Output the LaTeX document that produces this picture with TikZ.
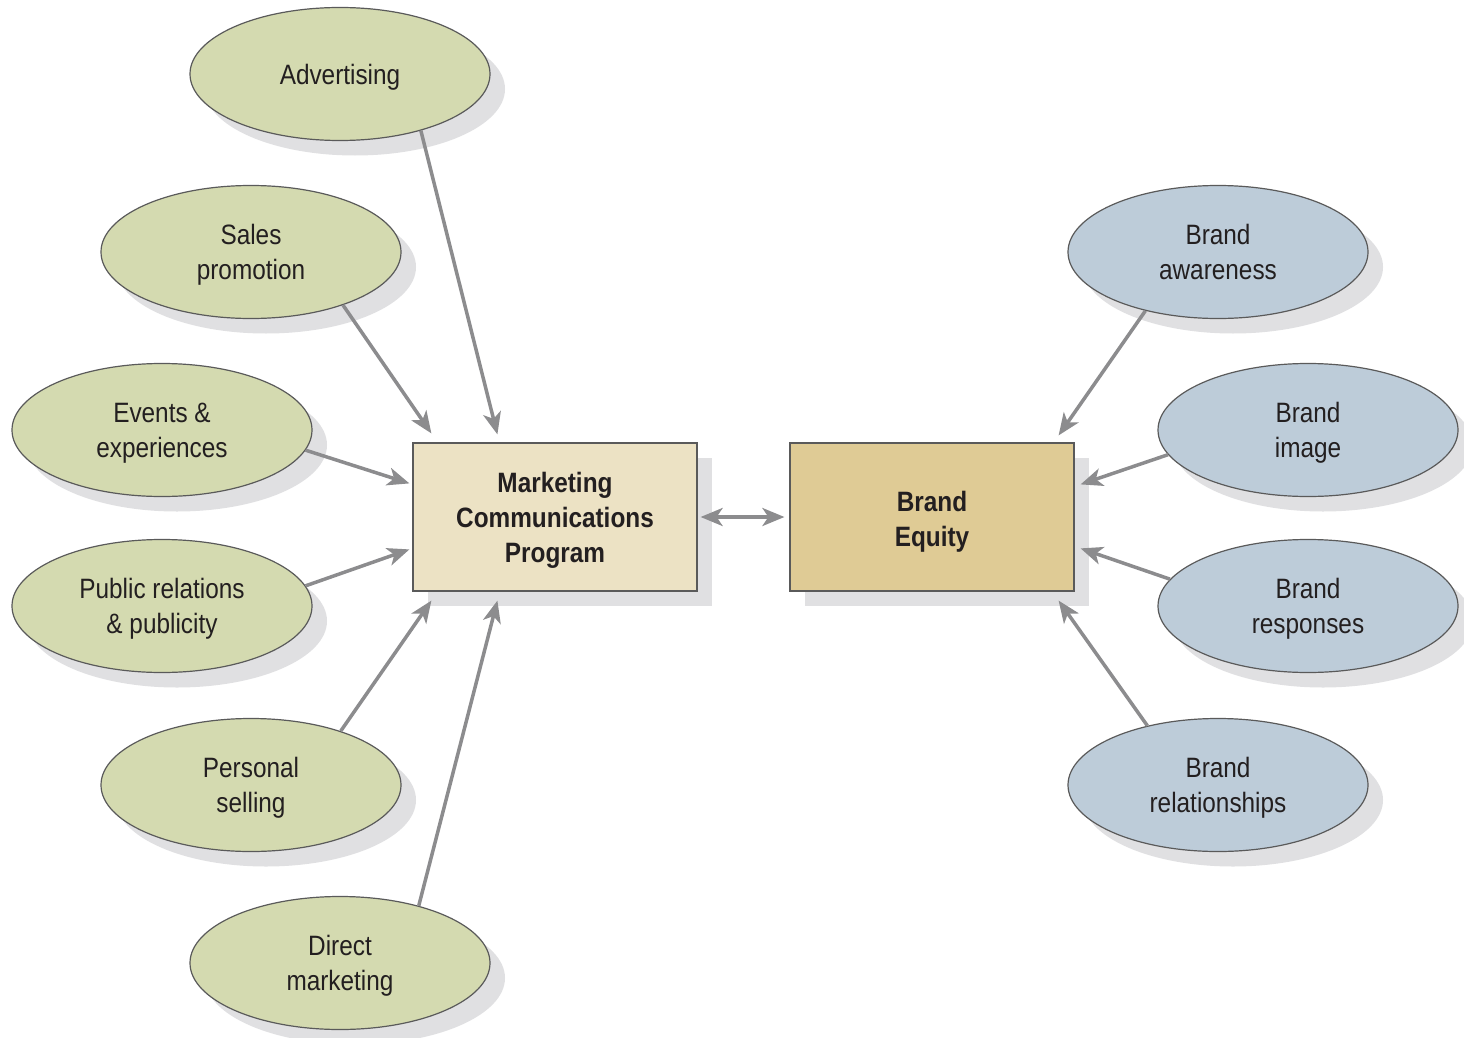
\documentclass[tikz,border=0pt]{standalone}
\usepackage{fontspec}
\setmainfont[FakeStretch=0.87]{Liberation Sans}
\usetikzlibrary{arrows.meta,shapes.geometric,shadows,calc}
\definecolor{leaf}{HTML}{D4DAB0}
\definecolor{sky}{HTML}{BDCCD9}
\definecolor{sand}{HTML}{ECE2C4}
\definecolor{gold}{HTML}{DFCB95}
\definecolor{shade}{HTML}{E0E0E2}
\definecolor{rim}{HTML}{5A5A5A}
\definecolor{wire}{HTML}{8C8C8E}
\definecolor{ink}{HTML}{231F20}
% struts that keep every label at the same height, whatever its letters
\newcommand\firstline[1][26pt]{\rule{0pt}{#1}}
\newcommand\lastline{\rule[-6pt]{0pt}{6pt}}
\begin{document}
\begin{tikzpicture}[x=1pt,y=-1pt,
  >={Stealth[length=22pt,width=18pt,inset=6pt]},
  every node/.style={font=\fontsize{28}{35}\selectfont, text=ink, align=center},
  flat shadow/.style={drop shadow={shadow xshift=15pt, shadow yshift=-15pt, opacity=1, fill=shade}},
  bubble/.style={ellipse, draw=rim, line width=1.2pt, minimum width=300pt,
    minimum height=133pt, inner sep=0pt, flat shadow},
  tool/.style={bubble, fill=leaf},
  facet/.style={bubble, fill=sky},
  panel/.style={rectangle, draw=rim, line width=1.2pt, minimum width=284pt,
    minimum height=148pt, inner sep=0pt, font=\fontsize{28}{35}\selectfont\bfseries, flat shadow},
  wirearrow/.style={draw=wire, line width=3.5pt, ->}
]
\useasboundingbox[fill=white] (0,0) rectangle (1464,1038);

% communication tools
\node[tool] (adv) at (340,74)  {\firstline Advertising};
\node[tool] (sal) at (251,252) {\firstline Sales\\promotion};
\node[tool] (evt) at (162,430) {\firstline Events \&\\experiences};
\node[tool] (pub) at (162,606) {\firstline Public relations\\\& publicity};
\node[tool] (per) at (251,785) {\firstline Personal\\selling};
\node[tool] (dir) at (340,963) {\firstline Direct\\marketing};

% brand equity facets
\node[facet] (awa) at (1218,252) {\firstline Brand\\awareness\lastline};
\node[facet] (img) at (1308,430) {\firstline Brand\\image};
\node[facet] (rsp) at (1308,606) {\firstline Brand\\responses};
\node[facet] (rel) at (1218,785) {\firstline Brand\\relationships};

% central boxes
\node[panel, fill=sand] (mcp) at (555,517) {\firstline Marketing\\Communications\\Program};
\node[panel, fill=gold] (be)  at (932,517) {\firstline[30pt]Brand\\Equity};

% tools feed the program
\draw[wirearrow] (adv.-35) -- ($(mcp.north west)+(85,-8)$);
\draw[wirearrow] (sal.-30) -- ($(mcp.north west)+(19,-9)$);
\draw[wirearrow] (evt.-8)  -- ($(mcp.north west)+(-3,41)$);
\draw[wirearrow] (pub.8)   -- ($(mcp.north west)+(-3,107)$);
\draw[wirearrow] (per.31)  -- ($(mcp.south west)+(19,9)$);
\draw[wirearrow] (dir.36)  -- ($(mcp.south west)+(85,9)$);

% program <-> equity
\draw[wirearrow, <->, shorten <=3pt, shorten >=5pt] (mcp.east) -- (be.west);

% facets feed equity
\draw[wirearrow] (awa.219) -- ($(be.north east)+(-16,-7)$);
\draw[wirearrow] (img.190) -- ($(be.north east)+(6,42)$);
\draw[wirearrow] (rsp.169) -- ($(be.north east)+(6,106)$);
\draw[wirearrow] (rel.140) -- ($(be.south east)+(-16,9)$);
\end{tikzpicture}
\end{document}
